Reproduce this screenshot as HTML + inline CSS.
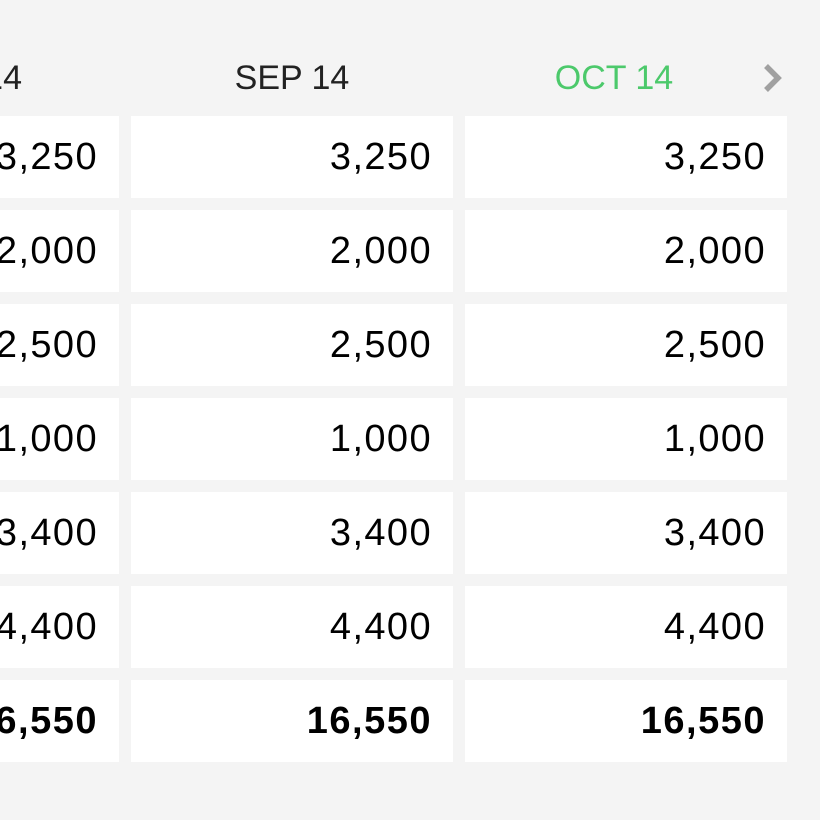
<!DOCTYPE html>
<html><head><meta charset="utf-8">
<style>
html,body{margin:0;padding:0;}
body{width:820px;height:820px;background:#f4f4f4;position:relative;overflow:hidden;font-family:"Liberation Sans",sans-serif;}
.hdr{position:absolute;top:58px;height:40px;line-height:40px;font-size:34px;color:#222;text-align:center;white-space:nowrap;}
.cell{position:absolute;background:#fff;height:82px;overflow:hidden;}
.cell span{position:absolute;right:21px;top:0;line-height:82px;font-size:38px;color:#000;letter-spacing:1.4px;white-space:nowrap;}
.cell.total span{font-weight:bold;letter-spacing:1.5px;}
</style></head>
<body>
<svg style="position:absolute;left:760px;top:62px" width="28" height="32">
<polyline points="6,4 18,16 6,28" fill="none" stroke="#a0a0a0" stroke-width="5.5"/>
</svg>
<div style="position:absolute;left:0;top:58px;width:22px;height:40px;overflow:hidden">
<div style="position:absolute;right:0;top:0;height:40px;line-height:40px;font-size:34px;color:#222;white-space:nowrap">AUG 14</div>
</div>
<script>
const months = ["AUG 14","SEP 14","OCT 14"];
const rowValues = ["3,250","2,000","2,500","1,000","3,400","4,400"];
const totals = ["16,550","16,550","16,550"];
const colLeft = [0,131,465];
const colWidth = [119,322,322];
for (let c=0;c<months.length;c++){
  if(c>0){
    const h=document.createElement('div');
    h.className='hdr';
    h.style.left=(colLeft[c]+(c===2?-12:0))+'px';h.style.width=colWidth[c]+'px';
    h.textContent=months[c];
    if(c===2) h.style.color='#4cc96b';
    
    
    document.body.appendChild(h);
  }
  const vals=rowValues.concat([totals[c]]);
  for(let r=0;r<vals.length;r++){
    const d=document.createElement('div');
    d.className='cell'+(r===vals.length-1?' total':'');
    d.style.left=colLeft[c]+'px';d.style.width=colWidth[c]+'px';
    d.style.top=(116+r*94)+'px';
    
    
    const s=document.createElement('span');
    s.textContent=vals[r];
    d.appendChild(s);
    document.body.appendChild(d);
  }
}
</script>
</body></html>
